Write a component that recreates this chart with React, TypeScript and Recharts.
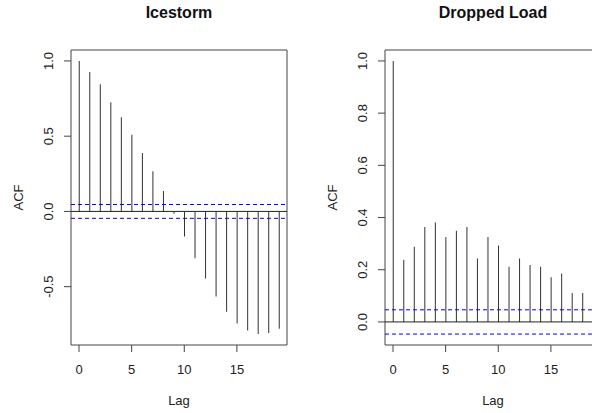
import React from "react";
import {
  ComposedChart,
  Bar,
  XAxis,
  YAxis,
  ReferenceLine,
  ReferenceArea,
} from "recharts";

const lags = [0, 1, 2, 3, 4, 5, 6, 7, 8, 9, 10, 11, 12, 13, 14, 15, 16, 17, 18, 19];
const icestormAcf = [
  1.0, 0.927, 0.845, 0.726, 0.625, 0.51, 0.389, 0.267, 0.135, -0.015,
  -0.166, -0.311, -0.446, -0.565, -0.667, -0.744, -0.792, -0.815, -0.808, -0.779,
];
const droppedLoadAcf = [
  1.0, 0.238, 0.288, 0.364, 0.381, 0.325, 0.349, 0.364, 0.243, 0.325,
  0.293, 0.211, 0.243, 0.218, 0.211, 0.171, 0.186, 0.111, 0.111, 0.14,
];
const icestormCI = 0.046;
const droppedLoadCI = 0.0465;
const xTicks = [0, 5, 10, 15];
const icestormYTicks = [-0.5, 0, 0.5, 1.0];
const droppedLoadYTicks = [0, 0.2, 0.4, 0.6, 0.8, 1.0];

const FONT = '"Liberation Sans", Arial, Helvetica, sans-serif';
const INK = "#222";
const FRAME = "#444";

function pad(lo: number, hi: number): [number, number] {
  const r = hi - lo;
  return [lo - 0.04 * r, hi + 0.04 * r];
}

const RotTick = (props: any) => {
  const { x, y, payload } = props;
  return (
    <text
      x={x}
      y={y}
      transform={`rotate(-90 ${x} ${y})`}
      textAnchor="middle"
      fontSize={13}
      fill={INK}
      fontFamily={FONT}
    >
      {Number(payload.value).toFixed(1)}
    </text>
  );
};

type PanelProps = {
  title: string;
  values: number[];
  ci: number;
  yTicks: number[];
  left: number;
  yAxisWidth: number;
  rightMargin: number;
};

function AcfPanel({ title, values, ci, yTicks, left, yAxisWidth, rightMargin }: PanelProps) {
  const data = lags.map((lag, i) => ({ lag, acf: values[i] }));
  const xDomain = pad(Math.min(...lags), Math.max(...lags));
  const yDomain = pad(Math.min(...values, -ci), Math.max(...values, ci));
  const plotWidth = 216;
  const width = yAxisWidth + plotWidth + rightMargin;
  return (
    <div style={{ position: "absolute", left, top: 0, width, height: 413 }}>
      <div
        style={{
          position: "absolute",
          left: yAxisWidth,
          width: plotWidth,
          top: 5,
          textAlign: "center",
          fontWeight: "bold",
          fontSize: 16,
          lineHeight: "16px",
          color: "#111",
          fontFamily: FONT,
        }}
      >
        {title}
      </div>
      <ComposedChart
        width={width}
        height={413}
        data={data}
        margin={{ top: 50, right: rightMargin, bottom: 0, left: 0 }}
      >
        <XAxis
          dataKey="lag"
          type="number"
          domain={xDomain}
          allowDataOverflow
          ticks={xTicks}
          interval={0}
          height={68}
          axisLine={false}
          tickLine={{ stroke: FRAME }}
          tickSize={7}
          tickMargin={13}
          tick={{ fontSize: 13, fill: INK, fontFamily: FONT }}
          label={{
            content: (p: any) => {
              const vb = p.viewBox;
              return (
                <text
                  x={vb.x + vb.width / 2}
                  y={vb.y + 59.5}
                  textAnchor="middle"
                  fontSize={13}
                  fill={INK}
                  fontFamily={FONT}
                >
                  Lag
                </text>
              );
            },
          }}
        />
        <YAxis
          type="number"
          domain={yDomain}
          allowDataOverflow
          ticks={yTicks}
          interval={0}
          width={yAxisWidth}
          axisLine={false}
          tickLine={{ stroke: FRAME }}
          tickSize={7}
          tickMargin={11}
          tick={<RotTick />}
          label={{
            content: (p: any) => {
              const vb = p.viewBox;
              const cx = vb.x + vb.width - 48;
              const cy = vb.y + vb.height / 2;
              return (
                <text
                  x={cx}
                  y={cy}
                  transform={`rotate(-90 ${cx} ${cy})`}
                  textAnchor="middle"
                  fontSize={13}
                  fill={INK}
                  fontFamily={FONT}
                >
                  ACF
                </text>
              );
            },
          }}
        />
        <ReferenceLine y={0} stroke={INK} strokeWidth={1} />
        <ReferenceLine y={ci} stroke="#0000ff" strokeDasharray="4 3" strokeWidth={1} />
        <ReferenceLine y={-ci} stroke="#0000ff" strokeDasharray="4 3" strokeWidth={1} />
        <Bar dataKey="acf" barSize={1} fill="#333" isAnimationActive={false} />
        <ReferenceArea
          x1={xDomain[0]}
          x2={xDomain[1]}
          y1={yDomain[0]}
          y2={yDomain[1]}
          fill="none"
          stroke={FRAME}
          strokeWidth={1}
          ifOverflow="visible"
        />
      </ComposedChart>
    </div>
  );
}

export default function App() {
  return (
    <div
      style={{
        position: "absolute",
        left: 0,
        top: 0,
        width: 592,
        height: 413,
        overflow: "hidden",
        background: "#fff",
        fontFamily: FONT,
      }}
    >
      <AcfPanel
        title="Icestorm"
        values={icestormAcf}
        ci={icestormCI}
        yTicks={icestormYTicks}
        left={0}
        yAxisWidth={71}
        rightMargin={13}
      />
      <AcfPanel
        title="Dropped Load"
        values={droppedLoadAcf}
        ci={droppedLoadCI}
        yTicks={droppedLoadYTicks}
        left={300}
        yAxisWidth={85}
        rightMargin={11}
      />
    </div>
  );
}
